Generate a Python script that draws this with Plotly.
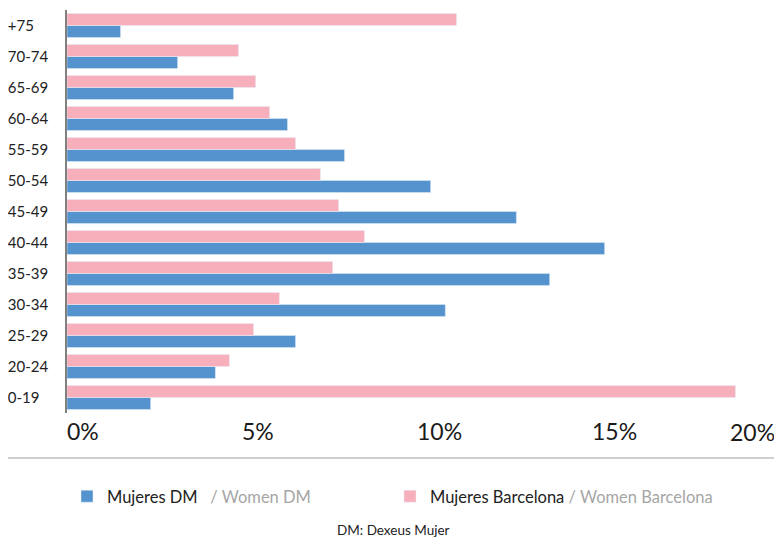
import plotly.graph_objects as go

categories = ["0-19", "20-24", "25-29", "30-34", "35-39", "40-44", "45-49",
              "50-54", "55-59", "60-64", "65-69", "70-74", "+75"]
mujeres_dm = [2.39, 4.24, 6.53, 10.81, 13.79, 15.36, 12.84,
              10.39, 7.93, 6.30, 4.76, 3.16, 1.53]
mujeres_bcn = [19.10, 4.64, 5.33, 6.07, 7.59, 8.50, 7.76,
               7.24, 6.53, 5.79, 5.39, 4.90, 11.13]
x_ticks = [0, 5, 10, 15]
x_tick_labels = ["0%", "5%", "10%", "15%"]
last_tick = 20
last_tick_label = "20%"

BLUE = "#5593CF"
PINK = "#F8AFBC"
FONT = "Lato"

W, H = 782, 537
OFF = 8  # page body margin offset of the figure in the browser window
# plot area geometry in window pixels
PL, PR, PT, PB = 67 - OFF, 767 - OFF, 10 - OFF, 413 - OFF


def px_x(p):
    return (p - OFF - PL) / (PR - PL)


def px_y(p):
    return (PB - (p - OFF)) / (PB - PT)


fig = go.Figure()
fig.add_trace(go.Bar(
    y=categories, x=mujeres_dm, orientation="h", marker_color=BLUE,
    name="Mujeres DM\u00a0\u00a0\u00a0<span style='color:#a6a6a6'>/ Women DM</span>",
))
fig.add_trace(go.Bar(
    y=categories, x=mujeres_bcn, orientation="h", marker_color=PINK,
    name="Mujeres Barcelona <span style='color:#a6a6a6'>/ Women Barcelona</span>",
))

fig.update_layout(
    width=W, height=H,
    margin=dict(l=PL, r=W - PR, t=PT, b=H - PB, autoexpand=False),
    paper_bgcolor="white", plot_bgcolor="white",
    barmode="group", bargap=0.226, bargroupgap=0,
    font=dict(family=FONT, color="#222222"),
    showlegend=True,
    legend=dict(
        orientation="h", xref="container", yref="container",
        x=(67 - OFF) / W, y=1 - (479 - OFF) / H, xanchor="left", yanchor="top",
        font=dict(size=16.5, color="#222222"),
        itemwidth=30, entrywidth=278, entrywidthmode="pixels",
        traceorder="normal",
    ),
    xaxis=dict(
        range=[0, 20], showgrid=False, zeroline=False, showline=False,
        tickvals=x_ticks, ticktext=x_tick_labels,
        ticklabelposition="outside right", ticklabelstandoff=3,
        tickfont=dict(size=23, color="#1a1a1a", family=FONT),
        ticks="",
    ),
    yaxis=dict(
        showgrid=False, zeroline=False, showline=True,
        linecolor="#808080", linewidth=1.5,
        ticks="", ticklabelposition="inside", ticklabelstandoff=-59,
        tickfont=dict(size=15, color="#222222", family=FONT),
        categoryorder="array", categoryarray=categories,
    ),
)

fig.add_annotation(
    x=last_tick, xref="x", y=0, yref="paper", text=last_tick_label,
    showarrow=False, xanchor="center", yanchor="top", xshift=-15, yshift=-3,
    font=dict(size=23, color="#1a1a1a", family=FONT),
)
fig.add_shape(
    type="line", xref="paper", yref="paper",
    x0=px_x(7), x1=px_x(777), y0=px_y(458), y1=px_y(458),
    line=dict(color="#bfbfbf", width=1.5),
)
fig.add_annotation(
    x=px_x(393), xref="paper", y=px_y(530), yref="paper",
    text="DM: Dexeus Mujer", showarrow=False, xanchor="center", yanchor="middle",
    font=dict(size=13.5, color="#222222", family=FONT),
)

fig.write_html("out.html")
